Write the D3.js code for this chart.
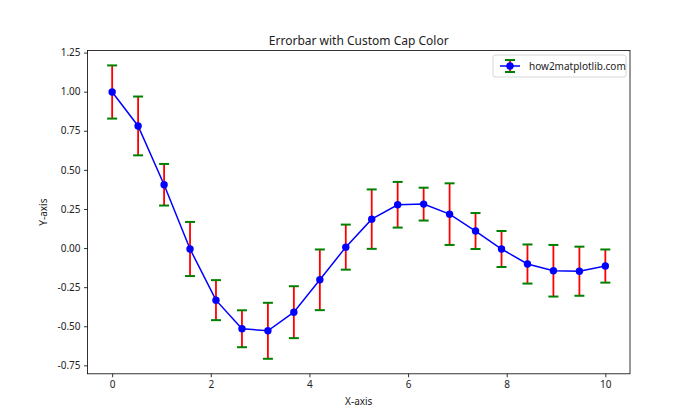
<!DOCTYPE html>
<html>
<head>
<meta charset="utf-8">
<script src="https://cdn.jsdelivr.net/npm/d3@7"></script>
<style>
  body { margin: 0; background: #fff; }
  text { font-family: "Noto Sans", "Open Sans", sans-serif; fill: #222; }
</style>
</head>
<body>
<div id="chart"></div>
<script>
// values
var xValues = [0, 0.526, 1.053, 1.579, 2.105, 2.632, 3.158, 3.684, 4.211, 4.737,
               5.263, 5.789, 6.316, 6.842, 7.368, 7.895, 8.421, 8.947, 9.474, 10];
var yValues = [0.998, 0.781, 0.405, -0.006, -0.333, -0.516, -0.529, -0.410, -0.203, 0.006,
               0.185, 0.277, 0.281, 0.217, 0.109, -0.006, -0.102, -0.145, -0.148, -0.115];
var yErrors = [0.170, 0.188, 0.133, 0.173, 0.128, 0.118, 0.179, 0.166, 0.194, 0.144,
               0.190, 0.146, 0.105, 0.197, 0.115, 0.115, 0.125, 0.165, 0.157, 0.106];
var xTicks = [0, 2, 4, 6, 8, 10];
var yTicks = [-0.75, -0.5, -0.25, 0, 0.25, 0.5, 0.75, 1.0, 1.25];

var width = 700, height = 420;
var margin = {top: 50.4, right: 70, bottom: 46.2, left: 87.5};

var svg = d3.select("#chart").append("svg")
    .attr("width", width)
    .attr("height", height);

var x = d3.scaleLinear().domain([-0.5, 10.5]).range([margin.left, width - margin.right]);
var y = d3.scaleLinear().domain([-0.804, 1.264]).range([height - margin.bottom, margin.top]);

var data = xValues.map(function(d, i) {
    return {x: d, y: yValues[i], e: yErrors[i]};
});

// axes
var xAxis = svg.append("g")
    .attr("transform", "translate(0," + (height - margin.bottom) + ")")
    .call(d3.axisBottom(x).tickValues(xTicks).tickSize(3.5).tickPadding(3.5).tickFormat(d3.format("d")));
var yAxis = svg.append("g")
    .attr("transform", "translate(" + margin.left + ",0)")
    .call(d3.axisLeft(y).tickValues(yTicks).tickSize(3.5).tickPadding(3.5).tickFormat(d3.format(".2f")));
[xAxis, yAxis].forEach(function(a) {
    a.select(".domain").remove();
    a.selectAll("line").attr("stroke", "#000").attr("stroke-width", 0.8);
    a.selectAll("text").style("font-size", "10px").attr("fill", "#222");
});
yAxis.selectAll("text").text(function(d) { return d3.format(".2f")(d).replace("−", "-"); });

// frame
svg.append("rect")
    .attr("x", margin.left)
    .attr("y", margin.top)
    .attr("width", width - margin.left - margin.right)
    .attr("height", height - margin.top - margin.bottom)
    .attr("fill", "none")
    .attr("stroke", "#000")
    .attr("stroke-width", 0.8);

var plot = svg.append("g");

// error bars
plot.selectAll("line.err")
    .data(data)
    .join("line")
    .attr("class", "err")
    .attr("x1", d => x(d.x)).attr("x2", d => x(d.x))
    .attr("y1", d => y(d.y - d.e)).attr("y2", d => y(d.y + d.e))
    .attr("stroke", "red")
    .attr("stroke-width", 1.8);

var capHalf = 5;
["top", "bottom"].forEach(function(side) {
    plot.selectAll("line.cap-" + side)
        .data(data)
        .join("line")
        .attr("class", "cap-" + side)
        .attr("x1", d => x(d.x) - capHalf).attr("x2", d => x(d.x) + capHalf)
        .attr("y1", d => y(side == "top" ? d.y + d.e : d.y - d.e))
        .attr("y2", d => y(side == "top" ? d.y + d.e : d.y - d.e))
        .attr("stroke", "green")
        .attr("stroke-width", 2);
});

// data line
var line = d3.line().x(d => x(d.x)).y(d => y(d.y));
plot.append("path")
    .datum(data)
    .attr("d", line)
    .attr("fill", "none")
    .attr("stroke", "blue")
    .attr("stroke-width", 1.5);

plot.selectAll("circle")
    .data(data)
    .join("circle")
    .attr("cx", d => x(d.x))
    .attr("cy", d => y(d.y))
    .attr("r", 3.7)
    .attr("fill", "blue");

// title and axis labels
svg.append("text")
    .attr("x", (margin.left + width - margin.right) / 2)
    .attr("y", 45)
    .attr("text-anchor", "middle")
    .style("font-size", "12px")
    .text("Errorbar with Custom Cap Color");
svg.append("text")
    .attr("x", (margin.left + width - margin.right) / 2)
    .attr("y", 405)
    .attr("text-anchor", "middle")
    .style("font-size", "10px")
    .text("X-axis");
svg.append("text")
    .attr("transform", "translate(47," + ((margin.top + height - margin.bottom) / 2) + ") rotate(-90)")
    .attr("text-anchor", "middle")
    .style("font-size", "10px")
    .text("Y-axis");

// legend
var lg = svg.append("g").attr("transform", "translate(493,55)");
lg.append("rect")
    .attr("width", 133).attr("height", 22).attr("rx", 2)
    .attr("fill", "#fff").attr("stroke", "#ccc").attr("stroke-width", 0.8);
lg.append("line").attr("x1", 7).attr("x2", 27).attr("y1", 11).attr("y2", 11)
    .attr("stroke", "blue").attr("stroke-width", 1.5);
lg.append("line").attr("x1", 17).attr("x2", 17).attr("y1", 5).attr("y2", 17)
    .attr("stroke", "red").attr("stroke-width", 1.8);
[5, 17].forEach(function(cy) {
    lg.append("line").attr("x1", 12).attr("x2", 22).attr("y1", cy).attr("y2", cy)
        .attr("stroke", "green").attr("stroke-width", 2);
});
lg.append("circle").attr("cx", 17).attr("cy", 11).attr("r", 3.7).attr("fill", "blue");
lg.append("text").attr("x", 36).attr("y", 15).style("font-size", "10px").text("how2matplotlib.com");
</script>
</body>
</html>
